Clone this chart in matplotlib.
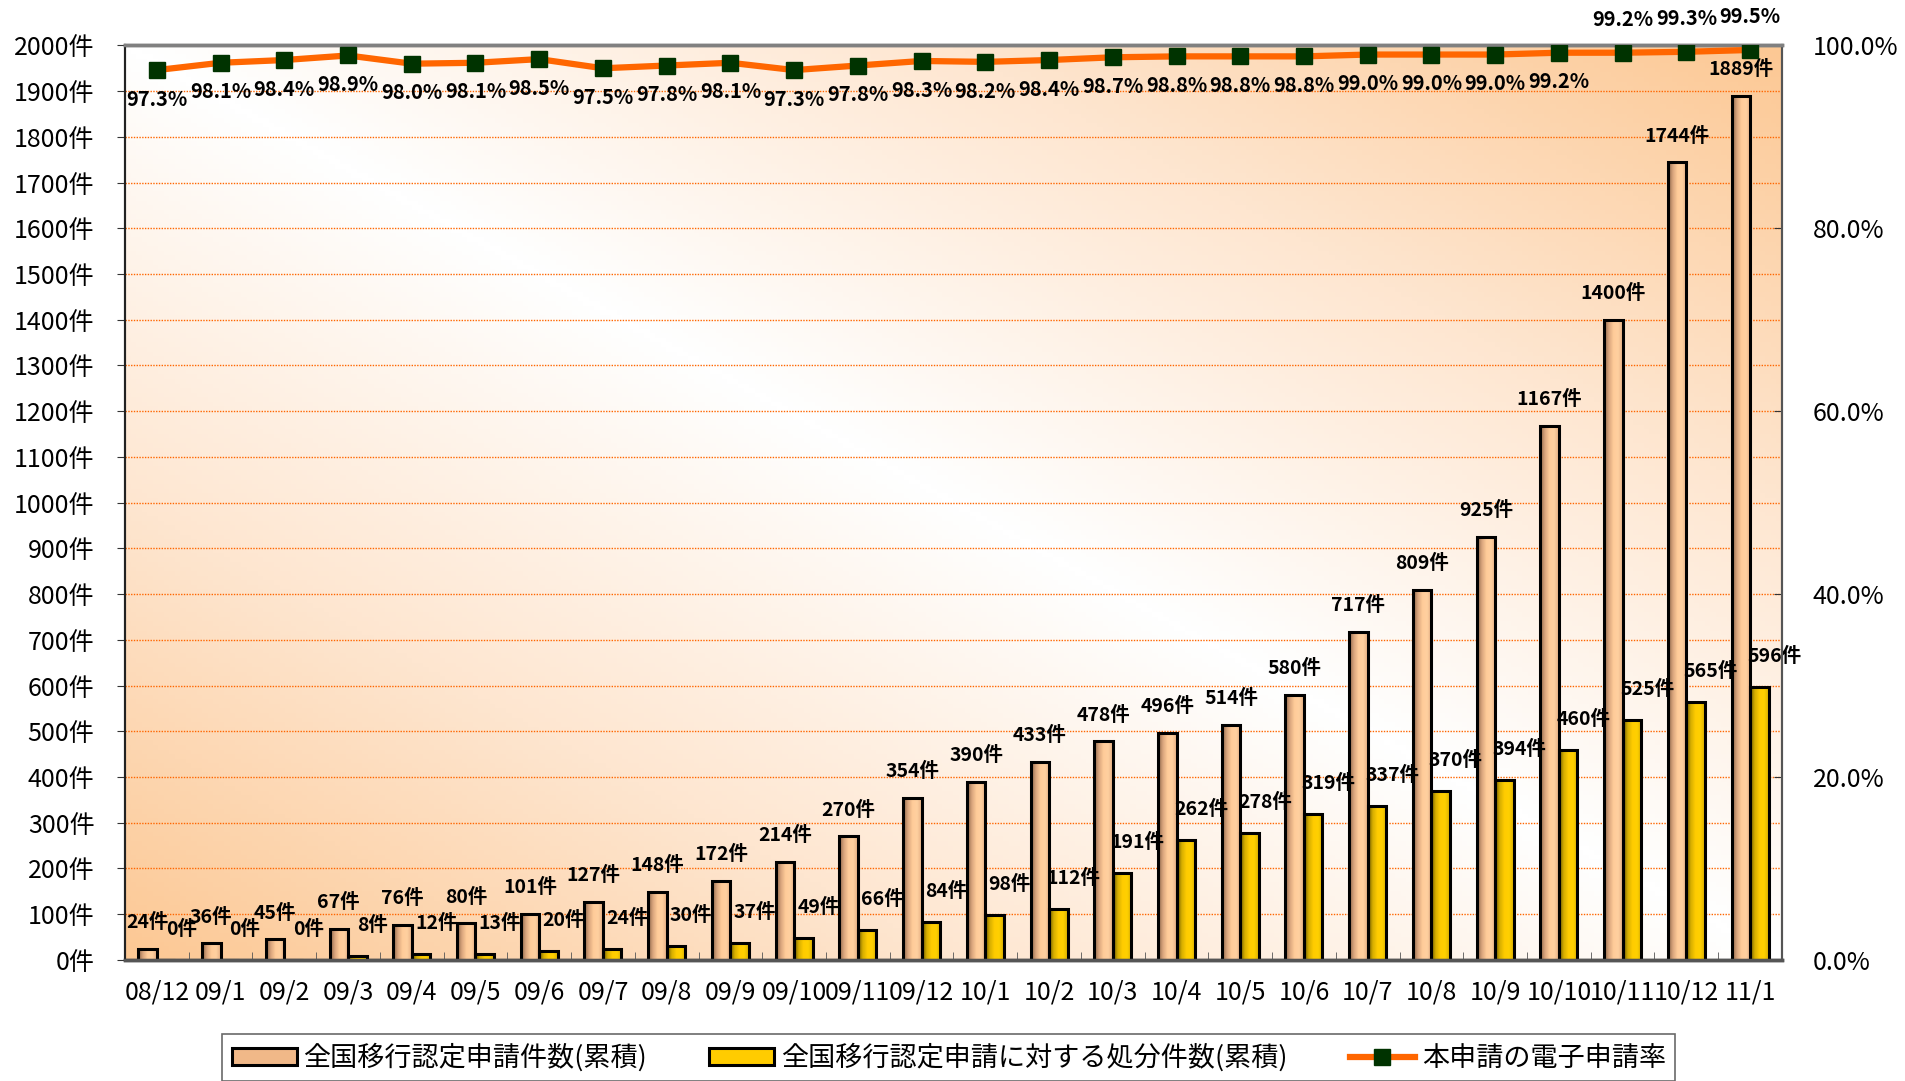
import matplotlib.pyplot as plt
import matplotlib as mpl
import numpy as np
from matplotlib.colors import LinearSegmentedColormap
from matplotlib.patches import Patch
from matplotlib.lines import Line2D

plt.rcParams['font.family'] = ['Noto Sans CJK JP', 'DejaVu Sans']

months = ['08/12', '09/1', '09/2', '09/3', '09/4', '09/5', '09/6', '09/7', '09/8',
          '09/9', '09/10', '09/11', '09/12', '10/1', '10/2', '10/3', '10/4', '10/5',
          '10/6', '10/7', '10/8', '10/9', '10/10', '10/11', '10/12', '11/1']
applications = [24, 36, 45, 67, 76, 80, 101, 127, 148, 172, 214, 270, 354, 390, 433,
                478, 496, 514, 580, 717, 809, 925, 1167, 1400, 1744, 1889]
dispositions = [0, 0, 0, 8, 12, 13, 20, 24, 30, 37, 49, 66, 84, 98, 112, 191, 262,
                278, 319, 337, 370, 394, 460, 525, 565, 596]
e_rate = [97.3, 98.1, 98.4, 98.9, 98.0, 98.1, 98.5, 97.5, 97.8, 98.1, 97.3, 97.8, 98.3,
          98.2, 98.4, 98.7, 98.8, 98.8, 98.8, 99.0, 99.0, 99.0, 99.2, 99.2, 99.3, 99.5]

names = ['全国移行認定申請件数(累積)', '全国移行認定申請に対する処分件数(累積)', '本申請の電子申請率']

n = len(months)
x = np.arange(n)
w = 0.29

fig = plt.figure(figsize=(19.05, 10.81), dpi=100)
ax = fig.add_axes([0.0656, 0.112, 0.8698, 0.846])
ax2 = ax.twinx()

# background: orange in bottom-left and top-right corners, white band across
gx, gy = np.meshgrid(np.linspace(0, 1, 300), np.linspace(0, 1, 200))
d = np.abs((gx + gy) - 1.0)
bg_cmap = LinearSegmentedColormap.from_list('bg', ['#ffffff', '#fee6d0', '#fcc894'])
ax.imshow(d, cmap=bg_cmap, extent=[0, 1, 0, 1], origin='lower', aspect='auto',
          transform=ax.transAxes, zorder=0, vmin=0, vmax=1)

peach = LinearSegmentedColormap.from_list('p', ['#8a6448', '#d8a47c', '#ffcc99', '#ffd0a0', '#e6b084'])
gold = LinearSegmentedColormap.from_list('g', ['#6e5a00', '#d6ae00', '#ffcc00', '#ffd000', '#dcb000'])
grad = np.linspace(0, 1, 64).reshape(1, -1)

for i in range(n):
    for val, off, cm in [(applications[i], -w / 2, peach), (dispositions[i], w / 2, gold)]:
        if val <= 0:
            continue
        ax.imshow(grad, cmap=cm, extent=[x[i] + off - w / 2, x[i] + off + w / 2, 0, val],
                  aspect='auto', zorder=3)

ax.bar(x - w / 2, applications, w, fill=False, edgecolor='black', linewidth=2.2, zorder=4)
ax.bar(x + w / 2, dispositions, w, fill=False, edgecolor='black', linewidth=2.2, zorder=4)

for i in range(n):
    ax.annotate(f'{applications[i]}件', (x[i] - w / 2, applications[i]), xytext=(0, 19),
                textcoords='offset points', ha='center', va='center',
                fontsize=14, fontweight='bold', zorder=6)
    ax.annotate(f'{dispositions[i]}件', (x[i] + w / 2, dispositions[i]), xytext=(11, 22),
                textcoords='offset points', ha='center', va='center',
                fontsize=14, fontweight='bold', zorder=6)

ax.set_xlim(-0.5, n - 0.5)
ax.set_ylim(0, 2000)
ax.set_yticks(np.arange(0, 2001, 100))
ax.set_yticklabels([f'{v}件' for v in range(0, 2001, 100)], fontsize=18)
ax.set_xticks(x)
ax.set_xticklabels(months, fontsize=18)
ax.set_xticks(np.arange(-0.5, n, 1), minor=True)
ax.tick_params(axis='x', which='major', length=0, pad=14)
ax.tick_params(axis='x', which='minor', direction='in', length=6, color='#555555')
ax.tick_params(axis='y', direction='out', length=6, pad=16, color='#333333')
ax.grid(axis='y', color='#ff6600', linestyle=(0, (1, 1)), linewidth=1.0, zorder=1)
ax.set_axisbelow(True)

# rate line on the right axis
ax2.plot(x, e_rate, color='#ff6600', linewidth=4.5, marker='s', markersize=12,
         markerfacecolor='#003300', markeredgecolor='#003300', zorder=5)
for i in range(n):
    above = i >= n - 3
    ax2.annotate(f'{e_rate[i]:.1f}%', (x[i], e_rate[i]), xytext=(0, 24 if above else -21),
                 textcoords='offset points', ha='center', va='center',
                 fontsize=14.5, fontweight='bold', zorder=6, annotation_clip=False)
ax2.set_ylim(0, 100)
ax2.set_yticks(np.arange(0, 101, 20))
ax2.set_yticklabels([f'{v:.1f}%' for v in range(0, 101, 20)], fontsize=18)
ax2.tick_params(axis='y', direction='in', length=6, pad=22, color='#333333')

for a in (ax, ax2):
    a.spines['top'].set_color('#808080')
    a.spines['top'].set_linewidth(2.5)
    a.spines['bottom'].set_color('#555555')
    a.spines['bottom'].set_linewidth(2.5)
    a.spines['left'].set_color('#222222')
    a.spines['left'].set_linewidth(1.5)
    a.spines['right'].set_color('#555555')
    a.spines['right'].set_linewidth(1.5)

handles = [Patch(facecolor='#f0b888', edgecolor='black', linewidth=2.2),
           Patch(facecolor='#ffcc00', edgecolor='black', linewidth=2.2),
           Line2D([], [], color='#ff6600', linewidth=4.5, marker='s', markersize=12,
                  markerfacecolor='#003300', markeredgecolor='#003300')]
leg = fig.legend(handles, names, loc='upper center', bbox_to_anchor=(0.498, 0.0435),
                 ncol=3, fontsize=19.5, frameon=True, fancybox=False, edgecolor='#444444',
                 borderpad=0.35, borderaxespad=0, columnspacing=2.3, handlelength=2.4,
                 handletextpad=0.25, handleheight=0.6)
leg.get_frame().set_linewidth(1.2)
leg._legend_box.sep = 0
leg.borderpad = 0.35

fig.savefig('out.png', dpi=100)
